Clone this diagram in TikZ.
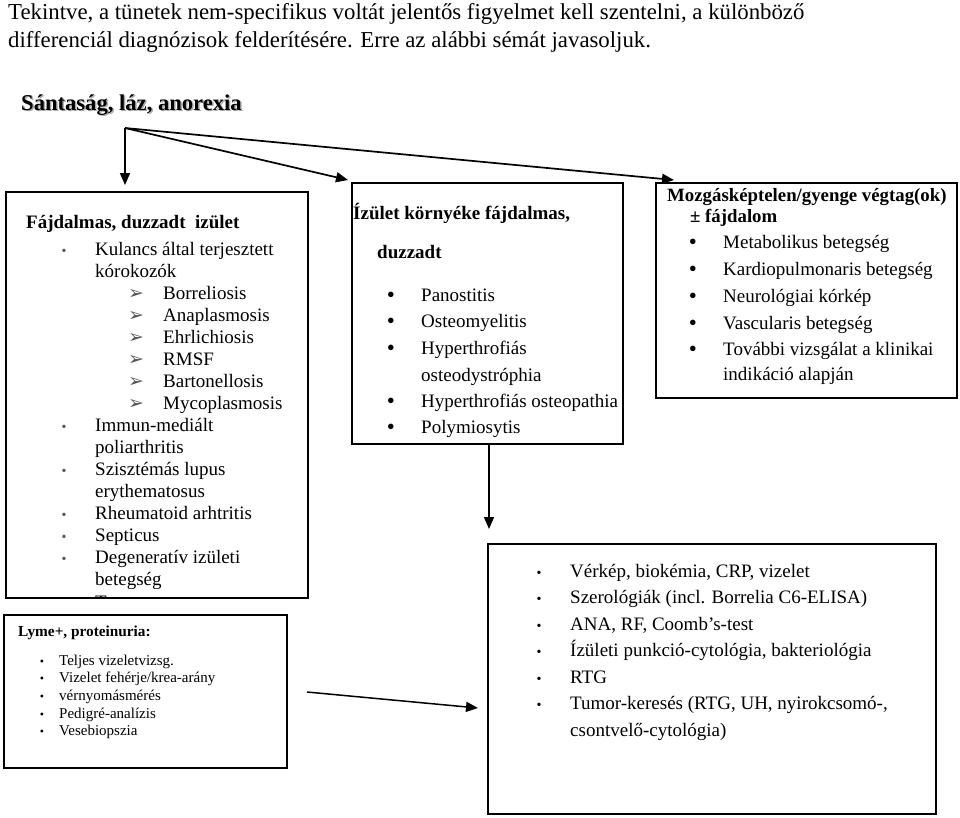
\documentclass[tikz,border=0pt]{standalone}
\usepackage{fontspec}
\setmainfont{Liberation Serif}
\newfontfamily\dejavu{DejaVu Sans}
\usetikzlibrary{arrows.meta}
\definecolor{bulgray}{HTML}{555555}
\definecolor{shadowgray}{HTML}{AAAAAA}
\tikzset{
  txt/.style={anchor=base west, inner sep=0pt, font=\fontsize{19}{22}\selectfont},
  btxt/.style={txt, font=\fontsize{19}{22}\selectfont\bfseries},
  stxt/.style={anchor=base west, inner sep=0pt, font=\fontsize{15}{18}\selectfont},
  sbtxt/.style={stxt, font=\fontsize{15.3}{18}\selectfont\bfseries},
  htxt/.style={anchor=base west, inner sep=0pt, font=\fontsize{22.8}{26}\selectfont},
  smalldot/.style={anchor=base, inner sep=0pt, text=bulgray, font=\fontsize{14}{16}\selectfont},
  bigdot/.style={anchor=base, inner sep=0pt, font=\fontsize{23}{24}\selectfont},
  arrowbul/.style={anchor=base, inner sep=0pt, text=bulgray, font=\dejavu\fontsize{19}{20}\selectfont},
  box/.style={draw, line width=1.8pt, inner sep=0pt, anchor=north west},
  arr/.style={-{Triangle[length=12pt,width=10pt]}, line width=1.7pt},
}
\begin{document}
\begin{tikzpicture}[x=1pt, y=-1pt]
\useasboundingbox (0,0) rectangle (960,817);

% header
\node[htxt] (h1) at (8,19) {Tekintve, a tünetek nem-specifikus voltát jelentős figyelmet kell szentelni, a különböző};
\node[htxt] (h2) at (8,47) {differenciál diagnózisok felderítésére. Erre az alábbi sémát javasoljuk.};

% title with shadow
\node[htxt, font=\fontsize{22.6}{24}\selectfont\bfseries, text=shadowgray] (tsh) at (22.5,111.5) {Sántaság, láz, anorexia};
\node[htxt, font=\fontsize{22.6}{24}\selectfont\bfseries] (title) at (21,110) {Sántaság, láz, anorexia};

% boxes
\node[box, minimum width=302pt, minimum height=406pt] (L) at (5,191) {};
\node[box, minimum width=271pt, minimum height=261pt] (M) at (351,182) {};
\node[box, minimum width=301pt, minimum height=215pt] (R) at (655,182) {};
\node[box, minimum width=283pt, minimum height=153pt] (Y) at (3,614) {};
\node[box, minimum width=448pt, minimum height=270pt] (B) at (487,543) {};

% arrows
\coordinate (o) at (125,128);
\coordinate (bt) at (489,529);
\coordinate (ls) at (307,692);
\coordinate (lt) at (478,708);
\draw[arr] (o) -- ([yshift=6pt]o |- L.north);
\draw[arr] (o) -- ([xshift=-3pt,yshift=2pt]M.north west);
\draw[arr] (o) -- ([xshift=19pt,yshift=2pt]R.north west);
\draw[arr, line width=1.5pt] (M.south -| bt) -- (bt);
\draw[arr, line width=1.5pt] (ls) -- (lt);

% left box
\node[btxt] (l0) at (26,228) {Fájdalmas, duzzadt\ \ izület};
\node[smalldot] (lb1) at (64,255) {\textbullet};
\node[txt] (l1) at (95,255) {Kulancs által terjesztett};
\node[txt] (l1b) at (95,277) {kórokozók};
\foreach \t [count=\i] in {Borreliosis,Anaplasmosis,Ehrlichiosis,RMSF,Bartonellosis,Mycoplasmosis}{
  \node[arrowbul] (la\i) at (136,{277+22*\i}) {➢};
  \node[txt] (ls\i) at (163,{277+22*\i}) {\t};
}
\node[smalldot] (lb2) at (64,431) {\textbullet};
\node[txt] (l2) at (95,431) {Immun-mediált};
\node[txt] (l2b) at (95,453) {poliarthritis};
\node[smalldot] (lb3) at (64,475) {\textbullet};
\node[txt] (l3) at (95,475) {Szisztémás lupus};
\node[txt] (l3b) at (95,497) {erythematosus};
\node[smalldot] (lb4) at (64,519) {\textbullet};
\node[txt] (l4) at (95,519) {Rheumatoid arhtritis};
\node[smalldot] (lb5) at (64,541) {\textbullet};
\node[txt] (l5) at (95,541) {Septicus};
\node[smalldot] (lb6) at (64,563) {\textbullet};
\node[txt] (l6) at (95,563) {Degeneratív izületi};
\node[txt] (l6b) at (95,585) {betegség};
\begin{scope}
  \clip (L.north west) rectangle (L.south east);
  \node[txt] (l7) at (95,608) {T};
\end{scope}

% middle box
\node[btxt] (m0) at (353,219) {Ízület környéke fájdalmas,};
\node[btxt] (m0b) at (377,258) {duzzadt};
\node[bigdot] (mb1) at (391,302) {\textbullet};
\node[txt] (m1) at (421,301) {Panostitis};
\node[bigdot] (mb2) at (391,328) {\textbullet};
\node[txt] (m2) at (421,327) {Osteomyelitis};
\node[bigdot] (mb3) at (391,355) {\textbullet};
\node[txt] (m3) at (421,354) {Hyperthrofiás};
\node[txt] (m3b) at (421,381) {osteodystróphia};
\node[bigdot] (mb4) at (391,408) {\textbullet};
\node[txt] (m4) at (421,407) {Hyperthrofiás osteopathia};
\node[bigdot] (mb5) at (391,434) {\textbullet};
\node[txt] (m5) at (421,433) {Polymiosytis};

% right box
\node[btxt, font=\fontsize{18.8}{22}\selectfont\bfseries] (r0) at (667,201) {Mozgásképtelen/gyenge végtag(ok)};
\node[btxt, font=\fontsize{18.8}{22}\selectfont\bfseries] (r0b) at (690,222) {± fájdalom};
\node[bigdot] (rb1) at (693,249) {\textbullet};
\node[txt] (r1) at (723,248) {Metabolikus betegség};
\node[bigdot] (rb2) at (693,276) {\textbullet};
\node[txt] (r2) at (723,275) {Kardiopulmonaris betegség};
\node[bigdot] (rb3) at (693,303) {\textbullet};
\node[txt] (r3) at (723,302) {Neurológiai kórkép};
\node[bigdot] (rb4) at (693,330) {\textbullet};
\node[txt] (r4) at (723,329) {Vascularis betegség};
\node[bigdot] (rb5) at (693,356) {\textbullet};
\node[txt] (r5) at (723,355) {További vizsgálat a klinikai};
\node[txt] (r5b) at (723,380) {indikáció alapján};

% Lyme box
\node[sbtxt] (y0) at (18,636) {Lyme+, proteinuria:};
\foreach \t [count=\i] in {Teljes vizeletvizsg.,Vizelet fehérje/krea-arány,vérnyomásmérés,Pedigré-analízis,Vesebiopszia}{
  \node[smalldot, text=black, font=\fontsize{12}{14}\selectfont] (yb\i) at (42,{647.3+17.7*\i}) {\textbullet};
  \node[stxt] (y\i) at (59,{647.3+17.7*\i}) {\t};
}

% bottom box
\node[smalldot, text=black] (bb1) at (539,577) {\textbullet};
\node[txt] (b1) at (570,577) {Vérkép, biokémia, CRP, vizelet};
\node[smalldot, text=black] (bb2) at (539,603) {\textbullet};
\node[txt] (b2) at (570,603) {Szerológiák (incl. Borrelia C6-ELISA)};
\node[smalldot, text=black] (bb3) at (539,630) {\textbullet};
\node[txt] (b3) at (570,630) {ANA, RF, Coomb’s-test};
\node[smalldot, text=black] (bb4) at (539,656) {\textbullet};
\node[txt] (b4) at (570,656) {Ízületi punkció-cytológia, bakteriológia};
\node[smalldot, text=black] (bb5) at (539,683) {\textbullet};
\node[txt] (b5) at (570,683) {RTG};
\node[smalldot, text=black] (bb6) at (539,709) {\textbullet};
\node[txt] (b6) at (570,709) {Tumor-keresés (RTG, UH, nyirokcsomó-,};
\node[txt] (b6b) at (570,736) {csontvelő-cytológia)};
\end{tikzpicture}
\end{document}
